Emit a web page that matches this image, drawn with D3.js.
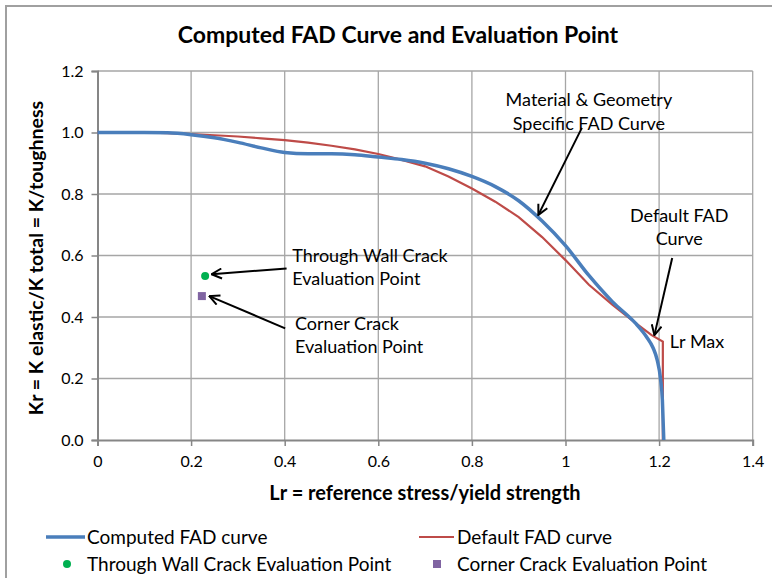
<!DOCTYPE html>
<html>
<head>
<meta charset="utf-8">
<script src="https://cdn.jsdelivr.net/npm/d3@7"></script>
<style>
  html, body { margin: 0; padding: 0; background: #fff; }
  svg { display: block; font-family: Lato, "Open Sans", sans-serif; }
</style>
</head>
<body>
<svg id="chart" width="772" height="578"></svg>
<script>
"use strict";

// Computed FAD curve (material & geometry specific)
const computedLr = [0, 0.05, 0.1, 0.15, 0.2, 0.25, 0.3, 0.35, 0.4, 0.45, 0.5, 0.55, 0.6, 0.65, 0.7, 0.75, 0.8, 0.85, 0.9, 0.95, 1.0, 1.05, 1.1, 1.15, 1.173, 1.187, 1.196, 1.203, 1.207, 1.21];
const computedKr = [1.0, 1.0, 1.0, 0.999, 0.993, 0.983, 0.968, 0.95, 0.935, 0.931, 0.931, 0.928, 0.92, 0.912, 0.9, 0.882, 0.857, 0.824, 0.778, 0.712, 0.632, 0.535, 0.45, 0.379, 0.336, 0.3, 0.26, 0.2, 0.13, 0.0];

// Default FAD curve
const defaultLr = [0, 0.05, 0.1, 0.15, 0.2, 0.25, 0.3, 0.35, 0.4, 0.45, 0.5, 0.55, 0.6, 0.65, 0.7, 0.75, 0.8, 0.85, 0.9, 0.95, 1.0, 1.05, 1.1, 1.15, 1.184, 1.208, 1.208];
const defaultKr = [1.0, 1.0, 1.0, 0.998, 0.995, 0.991, 0.987, 0.981, 0.975, 0.967, 0.957, 0.945, 0.93, 0.911, 0.89, 0.857, 0.818, 0.775, 0.725, 0.66, 0.585, 0.505, 0.44, 0.38, 0.341, 0.32, 0.0];

// Evaluation points
const throughWallPoint = [0.23, 0.533];
const cornerPoint = [0.223, 0.468];

const xTicks = [0, 0.2, 0.4, 0.6, 0.8, 1, 1.2, 1.4];
const yTicks = [0, 0.2, 0.4, 0.6, 0.8, 1.0, 1.2];

// Callouts: text lines, text anchor point, arrow from -> to (data units)
const callouts = [
    { lines: ["Through Wall Crack", "Evaluation Point"], at: [0.416, 0.579], anchor: "start", from: [0.404, 0.558], to: [0.244, 0.539] },
    { lines: ["Corner Crack", "Evaluation Point"], at: [0.422, 0.358], anchor: "start", from: [0.401, 0.363], to: [0.239, 0.468] },
    { lines: ["Material & Geometry", "Specific FAD Curve"], at: [1.05, 1.086], anchor: "middle", from: [1.035, 1.015], to: [0.942, 0.732] },
    { lines: ["Default FAD", "Curve"], at: [1.243, 0.709], anchor: "middle", from: [1.228, 0.592], to: [1.19, 0.341] },
    { lines: ["Lr Max"], at: [1.223, 0.3], anchor: "start", from: null, to: null }
];

(function () {
    const svg = d3.select("#chart");
    const left = 97.5, top = 71, width = 655.2, height = 369;

    const x = d3.scaleLinear().domain([0, 1.4]).range([left, left + width]);
    const y = d3.scaleLinear().domain([0, 1.2]).range([top + height, top]);

    // outer chart frame (only top/left visible in the crop)
    svg.append("path")
        .attr("d", "M6,600 L6,6 L800,6")
        .attr("fill", "none")
        .attr("stroke", "#a0a0a0")
        .attr("stroke-width", 2);

    svg.append("text")
        .attr("x", 398).attr("y", 43)
        .attr("text-anchor", "middle")
        .style("font-size", "23px").style("font-weight", "bold")
        .text("Computed FAD Curve and Evaluation Point");

    // gridlines
    svg.append("g").selectAll("line").data(xTicks.slice(1)).join("line")
        .attr("x1", d => x(d)).attr("x2", d => x(d))
        .attr("y1", top).attr("y2", top + height)
        .attr("stroke", "#a6a6a6").attr("stroke-width", 1.3);
    svg.append("g").selectAll("line").data(yTicks.slice(1)).join("line")
        .attr("x1", left).attr("x2", left + width)
        .attr("y1", d => y(d)).attr("y2", d => y(d))
        .attr("stroke", "#a6a6a6").attr("stroke-width", 1.3);

    const xAxis = svg.append("g")
        .attr("transform", `translate(0,${top + height})`)
        .call(d3.axisBottom(x).tickValues(xTicks).tickSize(6).tickPadding(10)
            .tickFormat(d => d === 0 || d === 1 ? String(d) : d3.format(".1f")(d)));
    const yAxis = svg.append("g")
        .attr("transform", `translate(${left},0)`)
        .call(d3.axisLeft(y).tickValues(yTicks).tickSize(6).tickPadding(8).tickFormat(d3.format(".1f")));

    [xAxis, yAxis].forEach(a => {
        a.select(".domain").attr("stroke", "#868686").attr("stroke-width", 2);
        a.selectAll(".tick line").attr("stroke", "#868686").attr("stroke-width", 1.5);
        a.selectAll(".tick text")
            .style("font-family", "Lato, sans-serif")
            .style("font-size", "16px").attr("fill", "#000");
    });

    svg.append("text")
        .attr("x", 425).attr("y", 500)
        .attr("text-anchor", "middle")
        .style("font-size", "20px").style("font-weight", "bold")
        .text("Lr = reference stress/yield strength");

    svg.append("text")
        .attr("transform", "translate(43,258) rotate(-90)")
        .attr("text-anchor", "middle")
        .style("font-size", "19.5px").style("font-weight", "bold")
        .text("Kr = K elastic/K total = K/toughness");

    const line = d3.line().x(d => x(d[0])).y(d => y(d[1])).curve(d3.curveMonotoneX);
    const lineStraight = d3.line().x(d => x(d[0])).y(d => y(d[1]));

    svg.append("path")
        .datum(defaultLr.map((v, i) => [v, defaultKr[i]]))
        .attr("d", lineStraight)
        .attr("fill", "none")
        .attr("stroke", "#be4b48")
        .attr("stroke-width", 2.2);

    svg.append("path")
        .datum(computedLr.map((v, i) => [v, computedKr[i]]))
        .attr("d", line)
        .attr("fill", "none")
        .attr("stroke", "#4a7ebb")
        .attr("stroke-width", 3.5)
        .attr("stroke-linejoin", "round");

    svg.append("circle")
        .attr("cx", x(throughWallPoint[0])).attr("cy", y(throughWallPoint[1]))
        .attr("r", 4).attr("fill", "#00b050");
    svg.append("rect")
        .attr("x", x(cornerPoint[0]) - 4).attr("y", y(cornerPoint[1]) - 4)
        .attr("width", 8).attr("height", 8).attr("fill", "#8064a2");

    // arrowheads
    svg.append("defs").append("marker")
        .attr("id", "arrow")
        .attr("viewBox", "0 0 12 12")
        .attr("refX", 11).attr("refY", 6)
        .attr("markerWidth", 12).attr("markerHeight", 12)
        .attr("markerUnits", "userSpaceOnUse")
        .attr("orient", "auto")
        .append("path")
        .attr("d", "M1,1 L11,6 L1,11")
        .attr("fill", "none").attr("stroke", "#000").attr("stroke-width", 2);

    callouts.forEach(c => {
        if (c.from) {
            svg.append("line")
                .attr("x1", x(c.from[0])).attr("y1", y(c.from[1]))
                .attr("x2", x(c.to[0])).attr("y2", y(c.to[1]))
                .attr("stroke", "#000").attr("stroke-width", 2)
                .attr("marker-end", "url(#arrow)");
        }
        const t = svg.append("text")
            .attr("x", x(c.at[0])).attr("y", y(c.at[1]))
            .attr("text-anchor", c.anchor)
            .style("font-size", "18px");
        c.lines.forEach((s, i) => {
            t.append("tspan").attr("x", x(c.at[0])).attr("dy", i === 0 ? 0 : 23.5).text(s);
        });
    });

    // legend
    const legend = svg.append("g").style("font-size", "19px");
    legend.append("line").attr("x1", 46).attr("x2", 85).attr("y1", 537).attr("y2", 537)
        .attr("stroke", "#4a7ebb").attr("stroke-width", 3.5);
    legend.append("text").attr("x", 87).attr("y", 544).text("Computed FAD curve");
    legend.append("line").attr("x1", 419).attr("x2", 454).attr("y1", 537).attr("y2", 537)
        .attr("stroke", "#be4b48").attr("stroke-width", 2.2);
    legend.append("text").attr("x", 457).attr("y", 544).text("Default FAD curve");
    legend.append("circle").attr("cx", 67).attr("cy", 564).attr("r", 4).attr("fill", "#00b050");
    legend.append("text").attr("x", 87).attr("y", 571).text("Through Wall Crack Evaluation Point");
    legend.append("rect").attr("x", 433).attr("y", 560).attr("width", 8).attr("height", 8).attr("fill", "#8064a2");
    legend.append("text").attr("x", 457).attr("y", 571).text("Corner Crack Evaluation Point");
})();
</script>
</body>
</html>
